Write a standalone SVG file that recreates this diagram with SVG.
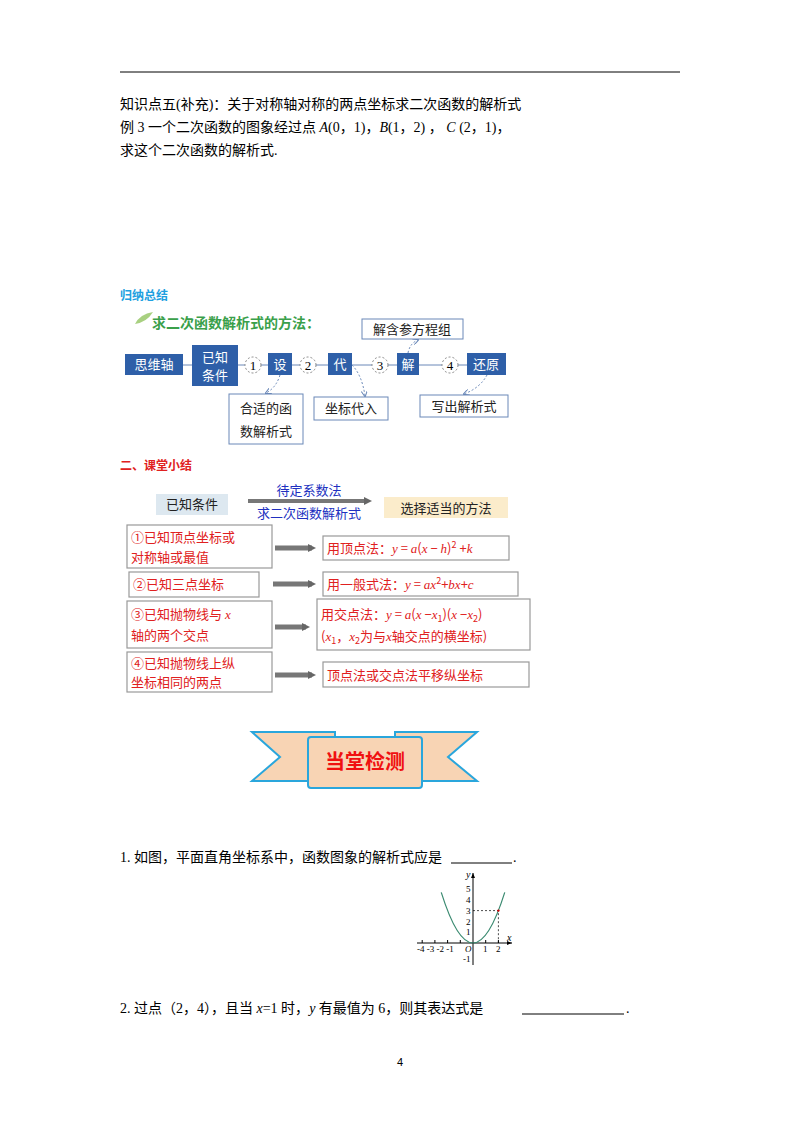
<svg xmlns="http://www.w3.org/2000/svg" width="800" height="1132" viewBox="0 0 800 1132">
<style>
text{font-family:"Liberation Serif","Noto Sans CJK SC",serif;font-size:14px;fill:#000}
.s{font-family:"Noto Sans CJK SC",sans-serif}
.bw{font-family:"Noto Sans CJK SC",sans-serif;font-size:13px;fill:#fff}
.bk{font-family:"Noto Sans CJK SC",sans-serif;font-size:13px;fill:#222}
.blue{fill:#2e5fa8}
.wb{fill:#fff;stroke:#6a88b8;stroke-width:1}
.r{font-family:"Noto Sans CJK SC",sans-serif;font-size:13px;fill:#e02020}
.ri{font-family:"Liberation Serif",serif;font-style:italic;font-size:13px;fill:#e02020}
.rb{fill:#fff;stroke:#999;stroke-width:1.2}
.circ{fill:#fff;stroke:#888;stroke-dasharray:2,2}
.dash{fill:none;stroke:#6a88b8;stroke-dasharray:2,2}
</style>
<defs>
<marker id="ah" markerWidth="6" markerHeight="6" refX="5" refY="3" orient="auto"><path d="M0,0L6,3L0,6" fill="none" stroke="#6a88b8"/></marker>
<marker id="gh" markerWidth="8" markerHeight="8" refX="4" refY="4" orient="auto" markerUnits="userSpaceOnUse"><path d="M0,0L8,4L0,8z" fill="#666"/></marker>
</defs>
<line x1="120" y1="72" x2="680" y2="72" stroke="#000" stroke-width="1"/>
<text x="120" y="109">知识点五(补充)：关于对称轴对称的两点坐标求二次函数的解析式</text>
<text x="120" y="132">例 3  一个二次函数的图象经过点  <tspan font-style="italic">A</tspan>(0，1)，<tspan font-style="italic">B</tspan>(1，2) ，  <tspan font-style="italic">C</tspan> (2，1)，</text>
<text x="120" y="155">求这个二次函数的解析式.</text>

<text x="120" y="300" class="s" style="fill:#20a0e0;font-weight:bold;font-size:12px">归纳总结</text>
<path d="M135,324 q5,-10 18,-12 q-6,10 -18,12z" fill="#a8d080"/>
<text x="152" y="328" class="s" style="fill:#3aa04a;font-weight:bold;font-size:14px">求二次函数解析式的方法：</text>

<g id="connectors">
<line x1="183" y1="365" x2="506" y2="365" stroke="#6a88b8"/>
<path class="dash" d="M280,375 Q276,388 266,393" marker-end="url(#ah)"/>
<path class="dash" d="M352,365 Q362,375 365,396" marker-end="url(#ah)"/>
<path class="dash" d="M408,353 Q410,343 418,340" marker-end="url(#ah)"/>
<path class="dash" d="M487,375 Q480,388 464,394" marker-end="url(#ah)"/>
<line x1="248" y1="501" x2="368" y2="501" stroke="#777" stroke-width="4" marker-end="url(#gh)"/>
<line x1="275" y1="548" x2="312" y2="548" stroke="#777" stroke-width="5" marker-end="url(#gh)"/>
<line x1="273" y1="584" x2="312" y2="584" stroke="#777" stroke-width="5" marker-end="url(#gh)"/>
<line x1="275" y1="627" x2="306" y2="627" stroke="#777" stroke-width="5" marker-end="url(#gh)"/>
<line x1="275" y1="675" x2="312" y2="675" stroke="#777" stroke-width="5" marker-end="url(#gh)"/>
</g>

<g id="n-swz"><rect x="125" y="354" width="58" height="21" class="blue"/><text x="154" y="369" class="bw" text-anchor="middle">思维轴</text></g>
<g id="n-yz"><rect x="192" y="345" width="46" height="41" class="blue"/><text x="215" y="362" class="bw" text-anchor="middle">已知</text><text x="215" y="380" class="bw" text-anchor="middle">条件</text></g>
<g id="c1"><circle cx="253" cy="365" r="8" class="circ"/><text x="253" y="370" text-anchor="middle" style="font-size:13px">1</text></g>
<g id="n-she"><rect x="268" y="353" width="24" height="22" class="blue"/><text x="280" y="369" class="bw" text-anchor="middle">设</text></g>
<g id="c2"><circle cx="308" cy="365" r="8" class="circ"/><text x="308" y="370" text-anchor="middle" style="font-size:13px">2</text></g>
<g id="n-dai"><rect x="328" y="353" width="24" height="22" class="blue"/><text x="340" y="369" class="bw" text-anchor="middle">代</text></g>
<g id="c3"><circle cx="380" cy="365" r="8" class="circ"/><text x="380" y="370" text-anchor="middle" style="font-size:13px">3</text></g>
<g id="n-jie"><rect x="397" y="353" width="22" height="22" class="blue"/><text x="408" y="369" class="bw" text-anchor="middle">解</text></g>
<g id="c4"><circle cx="450" cy="365" r="8" class="circ"/><text x="450" y="370" text-anchor="middle" style="font-size:13px">4</text></g>
<g id="n-hy"><rect x="467" y="353" width="39" height="22" class="blue"/><text x="486" y="369" class="bw" text-anchor="middle">还原</text></g>
<g id="n-jhc"><rect x="362" y="319" width="101" height="20" class="wb"/><text x="412" y="334" class="bk" text-anchor="middle">解含参方程组</text></g>
<g id="n-hs"><rect x="229" y="394" width="74" height="50" class="wb"/><text x="266" y="413" class="bk" text-anchor="middle">合适的函</text><text x="266" y="436" class="bk" text-anchor="middle">数解析式</text></g>
<g id="n-zb"><rect x="314" y="397" width="74" height="23" class="wb"/><text x="351" y="413" class="bk" text-anchor="middle">坐标代入</text></g>
<g id="n-xc"><rect x="420" y="395" width="88" height="22" class="wb"/><text x="464" y="411" class="bk" text-anchor="middle">写出解析式</text></g>

<text x="120" y="470" class="s" style="fill:#e02020;font-weight:bold;font-size:12px">二、课堂小结</text>
<g id="n-yzt"><rect x="156" y="494" width="72" height="21" fill="#dde8f0"/><text x="192" y="509" class="bk" text-anchor="middle">已知条件</text></g>
<text x="309" y="495" class="s" style="fill:#2030c0;font-size:13px" text-anchor="middle">待定系数法</text>
<text x="309" y="518" class="s" style="fill:#2030c0;font-size:13px" text-anchor="middle">求二次函数解析式</text>
<g id="n-xz"><rect x="384" y="497" width="124" height="21" fill="#fbeccb"/><text x="446" y="513" class="bk" text-anchor="middle">选择适当的方法</text></g>

<g id="l1"><rect x="127" y="525" width="145" height="43" class="rb"/><text x="131" y="542" class="r">①已知顶点坐标或</text><text x="131" y="562" class="r">对称轴或最值</text></g>
<g id="r1"><rect x="323" y="536" width="186" height="24" class="rb"/><text x="327" y="553" class="r">用顶点法：<tspan class="ri">y</tspan> = <tspan class="ri">a</tspan>(<tspan class="ri">x</tspan> − <tspan class="ri">h</tspan>)<tspan font-size="9" dy="-5">2</tspan><tspan dy="5"> +</tspan><tspan class="ri">k</tspan></text></g>
<g id="l2"><rect x="129" y="572" width="130" height="25" class="rb"/><text x="133" y="589" class="r">②已知三点坐标</text></g>
<g id="r2"><rect x="323" y="572" width="195" height="24" class="rb"/><text x="327" y="589" class="r">用一般式法：<tspan class="ri">y</tspan> = <tspan class="ri">ax</tspan><tspan font-size="9" dy="-5">2</tspan><tspan dy="5">+</tspan><tspan class="ri">bx</tspan>+<tspan class="ri">c</tspan></text></g>
<g id="l3"><rect x="127" y="601" width="145" height="47" class="rb"/><text x="131" y="619" class="r">③已知抛物线与 <tspan class="ri">x</tspan></text><text x="131" y="640" class="r">轴的两个交点</text></g>
<g id="r3"><rect x="317" y="599" width="213" height="51" class="rb"/><text x="321" y="619" class="r">用交点法：<tspan class="ri">y</tspan> = <tspan class="ri">a</tspan>(<tspan class="ri">x</tspan> −<tspan class="ri">x</tspan><tspan font-size="9" dy="3">1</tspan><tspan dy="-3">)(</tspan><tspan class="ri">x</tspan> −<tspan class="ri">x</tspan><tspan font-size="9" dy="3">2</tspan><tspan dy="-3">)</tspan></text><text x="321" y="641" class="r">(<tspan class="ri">x</tspan><tspan font-size="9" dy="3">1</tspan><tspan dy="-3">，</tspan><tspan class="ri">x</tspan><tspan font-size="9" dy="3">2</tspan><tspan dy="-3">为与</tspan><tspan class="ri">x</tspan>轴交点的横坐标)</text></g>
<g id="l4"><rect x="127" y="652" width="145" height="40" class="rb"/><text x="131" y="668" class="r">④已知抛物线上纵</text><text x="131" y="687" class="r">坐标相同的两点</text></g>
<g id="r4"><rect x="323" y="662" width="206" height="25" class="rb"/><text x="327" y="680" class="r">顶点法或交点法平移纵坐标</text></g>

<g id="banner">
<path d="M252,732 L335,732 L335,781 L252,781 L280,757Z" fill="#f8d4b4" stroke="#2aa6dc" stroke-width="2"/>
<path d="M477,732 L395,732 L395,781 L477,781 L448,757Z" fill="#f8d4b4" stroke="#2aa6dc" stroke-width="2"/>
<rect x="308" y="737" width="114" height="51" rx="3" fill="#f8d4b4" stroke="#2aa6dc" stroke-width="2"/>
<text x="365" y="769" class="s" text-anchor="middle" style="fill:#f01010;font-weight:bold;font-size:20px">当堂检测</text>
</g>

<text x="120" y="862">1. 如图，平面直角坐标系中，函数图象的解析式应是</text>
<line x1="451" y1="863" x2="512" y2="863" stroke="#000"/>
<text x="513" y="862">.</text>

<g id="graph">
<line x1="417" y1="943" x2="512" y2="943" stroke="#000"/>
<line x1="473" y1="965" x2="473" y2="873" stroke="#000"/>
<path d="M512,943 l-5,-2 v4z M473,873 l-2,5 h4z" fill="#000"/>
<path d="M441.25,892.4 Q473,993.6 504.75,892.4" fill="none" stroke="#3a8a70" stroke-width="1.2"/>
<polyline points="473,910.6 498.4,910.6 498.4,943" fill="none" stroke="#000" stroke-dasharray="2,2" stroke-width="0.7"/>
<circle cx="498.4" cy="910.6" r="1.2" fill="#c00"/>
<g stroke="#000"><line x1="422.2" y1="940" x2="422.2" y2="943"/><line x1="434.9" y1="940" x2="434.9" y2="943"/><line x1="447.6" y1="940" x2="447.6" y2="943"/><line x1="460.3" y1="940" x2="460.3" y2="943"/><line x1="485.7" y1="940" x2="485.7" y2="943"/><line x1="498.4" y1="940" x2="498.4" y2="943"/></g>
<text x="417" y="952" style="font-size:9px">-4 -3 -2 -1</text>
<text x="465" y="952" style="font-size:9px;font-style:italic">O</text>
<text x="483" y="952" style="font-size:9px">1</text><text x="496" y="952" style="font-size:9px">2</text>
<text x="507" y="941" style="font-size:10px;font-style:italic">x</text>
<text x="466" y="878" style="font-size:10px;font-style:italic">y</text>
<text x="466" y="892" style="font-size:9px">5</text><text x="466" y="903" style="font-size:9px">4</text><text x="466" y="914" style="font-size:9px">3</text><text x="466" y="925" style="font-size:9px">2</text><text x="466" y="935" style="font-size:9px">1</text><text x="463" y="962" style="font-size:9px">-1</text>
</g>

<text x="120" y="1013">2. 过点（2，4），且当 <tspan font-style="italic">x</tspan>=1 时，<tspan font-style="italic">y</tspan> 有最值为 6，则其表达式是</text>
<line x1="522" y1="1014" x2="624" y2="1014" stroke="#000"/>
<text x="626" y="1013">.</text>
<text x="400" y="1066" text-anchor="middle" style="font-family:'Liberation Sans',sans-serif;font-size:11px">4</text>
</svg>
